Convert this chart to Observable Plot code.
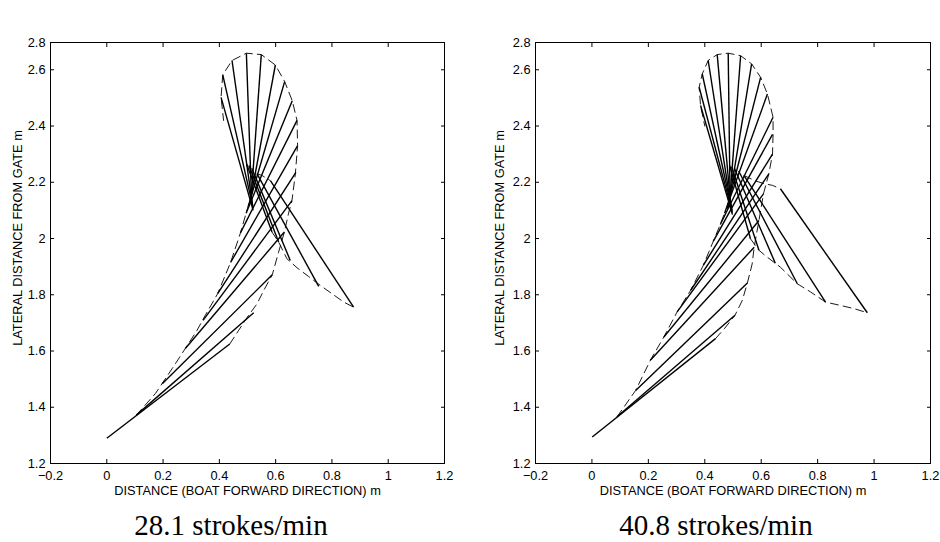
<!DOCTYPE html>
<html>
<head>
<meta charset="utf-8">
<script src="https://cdn.jsdelivr.net/npm/d3@7"></script>
<script src="https://cdn.jsdelivr.net/npm/@observablehq/plot@0.6"></script>
<style>
  body { margin: 0; background: #fff; }
  #wrap { position: relative; width: 940px; height: 542px; background: #fff; overflow: hidden; }
  .panel { position: absolute; top: 0; }
  .cap { position: absolute; top: 511px; font-family: "Liberation Serif", "DejaVu Serif", serif; font-size: 29px; line-height: 29px; white-space: nowrap; transform: translateX(-50%); color: #000; }
</style>
</head>
<body>
<div id="wrap"></div>
<script>
// ---- axes / text ----
const xTicks = [-0.2, 0, 0.2, 0.4, 0.6, 0.8, 1, 1.2];
const yTicks = [1.2, 1.4, 1.6, 1.8, 2, 2.2, 2.4, 2.6];
const yTopTick = 2.697;      // top edge of the box, labelled "2.8" in the original
const yTopLabel = "2.8";
const xLabel = "DISTANCE (BOAT FORWARD DIRECTION) m";
const yLabel = "LATERAL DISTANCE FROM GATE m";
const captions = ["28.1 strokes/min", "40.8 strokes/min"];

// ---- panel A : 28.1 strokes/min ----
// drive sticks (inner end -> outer end)
const aRootX = [0.000, 0.105, 0.197, 0.279, 0.342, 0.394, 0.440, 0.475, 0.495, 0.503, 0.508, 0.512, 0.515, 0.518, 0.520, 0.520];
const aRootY = [1.290, 1.372, 1.484, 1.609, 1.709, 1.804, 1.915, 2.020, 2.090, 2.115, 2.125, 2.130, 2.125, 2.118, 2.110, 2.100];
const aTipX  = [0.437, 0.522, 0.588, 0.631, 0.658, 0.672, 0.678, 0.676, 0.659, 0.632, 0.599, 0.549, 0.496, 0.445, 0.412, 0.406];
const aTipY  = [1.625, 1.736, 1.871, 2.023, 2.135, 2.235, 2.330, 2.420, 2.490, 2.558, 2.617, 2.654, 2.659, 2.633, 2.582, 2.502];
// entry sticks
const aEntryRootX = [0.582, 0.534, 0.515, 0.505, 0.497];
const aEntryRootY = [2.205, 2.230, 2.250, 2.260, 2.265];
const aEntryTipX  = [0.877, 0.753, 0.652, 0.611, 0.587];
const aEntryTipY  = [1.756, 1.830, 1.922, 1.987, 2.023];
// dashed paths
const aTipPathX  = [0.437, 0.469, 0.499, 0.534, 0.558, 0.588, 0.610, 0.631, 0.646, 0.658, 0.670, 0.678, 0.676, 0.659, 0.632, 0.599, 0.549, 0.496, 0.445, 0.412, 0.406, 0.415];
const aTipPathY  = [1.625, 1.674, 1.720, 1.768, 1.816, 1.871, 1.950, 2.023, 2.090, 2.135, 2.230, 2.330, 2.420, 2.490, 2.558, 2.617, 2.654, 2.659, 2.633, 2.582, 2.502, 2.420];
const aRootPathX = [0.105, 0.173, 0.232, 0.279, 0.321, 0.350, 0.394, 0.440, 0.475, 0.495, 0.505];
const aRootPathY = [1.372, 1.449, 1.537, 1.609, 1.674, 1.727, 1.804, 1.915, 2.020, 2.090, 2.125];
const aEntryPathX = [0.587, 0.611, 0.640, 0.676, 0.717, 0.759, 0.800, 0.842, 0.877];
const aEntryPathY = [2.023, 1.987, 1.928, 1.896, 1.865, 1.833, 1.804, 1.774, 1.756];
const aEntryTopX = [0.534, 0.552, 0.582];
const aEntryTopY = [2.230, 2.224, 2.205];

// ---- panel B : 40.8 strokes/min ----
const bRootX = [0.001, 0.089, 0.155, 0.207, 0.255, 0.302, 0.350, 0.395, 0.430, 0.455, 0.470, 0.478, 0.483, 0.487, 0.490, 0.493, 0.495, 0.497, 0.498, 0.498];
const bRootY = [1.294, 1.366, 1.460, 1.567, 1.650, 1.739, 1.816, 1.905, 1.990, 2.050, 2.090, 2.105, 2.112, 2.115, 2.112, 2.108, 2.103, 2.098, 2.092, 2.085];
const bTipX  = [0.438, 0.507, 0.551, 0.575, 0.592, 0.608, 0.627, 0.640, 0.640, 0.642, 0.622, 0.598, 0.566, 0.527, 0.483, 0.444, 0.412, 0.391, 0.380, 0.385];
const bTipY  = [1.644, 1.727, 1.842, 1.969, 2.064, 2.159, 2.230, 2.300, 2.370, 2.431, 2.514, 2.573, 2.621, 2.650, 2.659, 2.654, 2.633, 2.585, 2.538, 2.473];
const bEntryRootX = [0.668, 0.539, 0.520, 0.505, 0.495, 0.488];
const bEntryRootY = [2.177, 2.224, 2.240, 2.250, 2.255, 2.260];
const bEntryTipX  = [0.976, 0.828, 0.728, 0.650, 0.592, 0.562];
const bEntryTipY  = [1.736, 1.774, 1.839, 1.912, 1.958, 1.999];
const bTipPathX  = [0.438, 0.470, 0.507, 0.533, 0.551, 0.568, 0.575, 0.592, 0.608, 0.627, 0.640, 0.642, 0.642, 0.622, 0.598, 0.566, 0.527, 0.483, 0.444, 0.412, 0.391, 0.380, 0.385, 0.400];
const bTipPathY  = [1.644, 1.680, 1.727, 1.780, 1.842, 1.910, 1.969, 2.064, 2.159, 2.230, 2.300, 2.370, 2.431, 2.514, 2.573, 2.621, 2.650, 2.659, 2.654, 2.633, 2.585, 2.538, 2.473, 2.400];
const bRootPathX = [0.089, 0.155, 0.207, 0.255, 0.302, 0.350, 0.395, 0.430, 0.455, 0.470];
const bRootPathY = [1.366, 1.460, 1.567, 1.650, 1.739, 1.816, 1.905, 1.990, 2.050, 2.090];
const bEntryPathX = [0.562, 0.592, 0.621, 0.650, 0.668, 0.728, 0.775, 0.828, 0.881, 0.928, 0.976];
const bEntryPathY = [1.999, 1.958, 1.934, 1.912, 1.898, 1.839, 1.810, 1.774, 1.762, 1.751, 1.736];
const bEntryTopX = [0.539, 0.579, 0.610, 0.640, 0.668];
const bEntryTopY = [2.224, 2.205, 2.195, 2.189, 2.177];

// ---- helpers ----
const sticks = (x1, y1, x2, y2) => x1.map((v, i) => ({x1: v, y1: y1[i], x2: x2[i], y2: y2[i]}));
const path = (xs, ys) => xs.map((v, i) => ({x: v, y: ys[i]}));
const yAll = [...yTicks, yTopTick];
const fmtY = d => d === yTopTick ? yTopLabel : d3.format("~g")(d);
const fmtX = d => d < 0 ? "\u2212" + d3.format("~g")(-d) : d3.format("~g")(d);

function panel(cfg) {
  const solid = {stroke: "black", strokeWidth: 1.4};
  const dash = {x: "x", y: "y", stroke: "black", strokeWidth: 0.9, strokeDasharray: "8,5"};
  return Plot.plot({
    width: 470, height: 500,
    marginLeft: cfg.ml, marginRight: cfg.mr, marginTop: 42, marginBottom: 37,
    style: {fontFamily: "'Liberation Sans', Arial, Helvetica, sans-serif", fontSize: "12.8px", color: "black", background: "white", overflow: "visible"},
    x: {domain: [-0.2, 1.2]},
    y: {domain: [1.2, yTopTick]},
    marks: [
      Plot.line(path(cfg.tipPathX, cfg.tipPathY), dash),
      Plot.line(path(cfg.rootPathX, cfg.rootPathY), dash),
      Plot.line(path(cfg.entryPathX, cfg.entryPathY), dash),
      Plot.line(path(cfg.entryTopX, cfg.entryTopY), dash),
      Plot.link(sticks(cfg.rootX, cfg.rootY, cfg.tipX, cfg.tipY), {x1: "x1", y1: "y1", x2: "x2", y2: "y2", ...solid}),
      Plot.link(sticks(cfg.eRootX, cfg.eRootY, cfg.eTipX, cfg.eTipY), {x1: "x1", y1: "y1", x2: "x2", y2: "y2", ...solid}),
      Plot.frame({stroke: "black", strokeWidth: 1}),
      Plot.axisX(xTicks, {anchor: "bottom", tickSize: -4, tickPadding: 11, label: null, tickFormat: fmtX}),
      Plot.axisX(xTicks, {anchor: "top", tickSize: -4, fill: "none", label: null}),
      Plot.axisY(yAll, {anchor: "left", tickSize: -4, tickPadding: 9, label: null, tickFormat: fmtY}),
      Plot.axisY(yAll, {anchor: "right", tickSize: -4, fill: "none", label: null}),
      Plot.text([xLabel], {frameAnchor: "bottom", dy: 27, text: d => d, lineAnchor: "middle"}),
      Plot.text([yLabel], {frameAnchor: "left", rotate: -90, dx: cfg.ylDx, dy: -15, text: d => d, textAnchor: "middle", lineAnchor: "middle"})
    ]
  });
}

const wrap = document.getElementById("wrap");
const cfgs = [
  {left: 0, ml: 50, mr: 26, ylDx: -33, capX: 231,
   rootX: aRootX, rootY: aRootY, tipX: aTipX, tipY: aTipY,
   eRootX: aEntryRootX, eRootY: aEntryRootY, eTipX: aEntryTipX, eTipY: aEntryTipY,
   tipPathX: aTipPathX, tipPathY: aTipPathY, rootPathX: aRootPathX, rootPathY: aRootPathY,
   entryPathX: aEntryPathX, entryPathY: aEntryPathY, entryTopX: aEntryTopX, entryTopY: aEntryTopY},
  {left: 470, ml: 65, mr: 10, ylDx: -36, capX: 716,
   rootX: bRootX, rootY: bRootY, tipX: bTipX, tipY: bTipY,
   eRootX: bEntryRootX, eRootY: bEntryRootY, eTipX: bEntryTipX, eTipY: bEntryTipY,
   tipPathX: bTipPathX, tipPathY: bTipPathY, rootPathX: bRootPathX, rootPathY: bRootPathY,
   entryPathX: bEntryPathX, entryPathY: bEntryPathY, entryTopX: bEntryTopX, entryTopY: bEntryTopY}
];
cfgs.forEach((cfg, i) => {
  const holder = document.createElement("div");
  holder.className = "panel";
  holder.style.left = cfg.left + "px";
  holder.appendChild(panel(cfg));
  wrap.appendChild(holder);
  const cap = document.createElement("div");
  cap.className = "cap";
  cap.style.left = cfg.capX + "px";
  cap.textContent = captions[i];
  wrap.appendChild(cap);
});
</script>
</body>
</html>
